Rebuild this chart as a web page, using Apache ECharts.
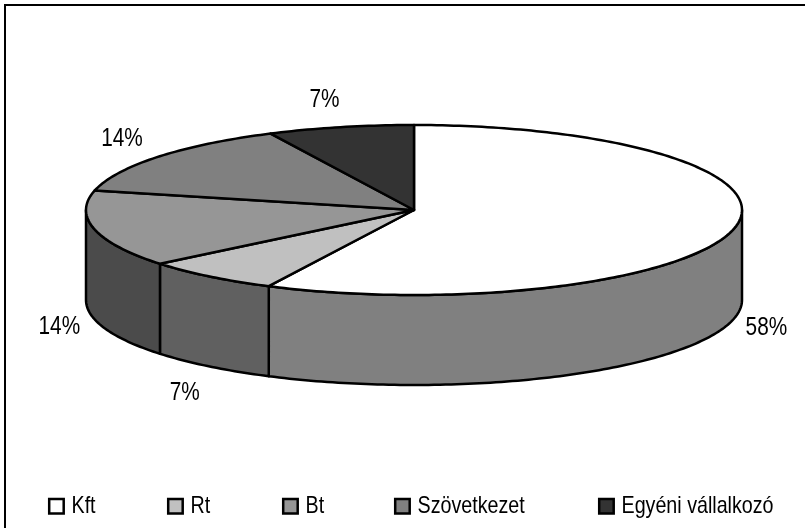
<!DOCTYPE html>
<html><head><meta charset="utf-8">
<style>html,body{margin:0;padding:0;background:#fff}#c{width:805px;height:528px}</style>
<script src="https://cdn.jsdelivr.net/npm/echarts@6/dist/echarts.min.js"></script>
</head><body><div id="c"></div>
<script>
const categories = ['Kft', 'Rt', 'Bt', 'Szövetkezet', 'Egyéni vállalkozó'];
const shares = [57.3, 6.8, 14.6, 14.1, 7.2];
const shareLabels = ['58%', '7%', '14%', '14%', '7%'];
const topColors = ['#ffffff', '#c0c0c0', '#969696', '#808080', '#333333'];
const sideColors = ['#808080', '#606060', '#4b4b4b', '#404040', '#1a1a1a'];
const labelOffsets = [[33, 9], [-25, 26], [-35, 8], [-36, -18], [-16, -27]];
const legendX = [48, 167, 282, 394, 598];

const CX = 414, CY = 210, RX = 328, RY = 85, DEPTH = 90;
const FONT = '"Liberation Sans",Arial,sans-serif';
const total = shares.reduce((a, b) => a + b, 0);
const rad = f => f * 2 * Math.PI;
const pt = (f, dy) => [CX + RX * Math.sin(rad(f)), CY - RY * Math.cos(rad(f)) + (dy || 0)];
const arc = (f0, f1, dy) => {
  const n = Math.max(2, Math.ceil((f1 - f0) * 360)), out = [];
  for (let i = 0; i <= n; i++) out.push(pt(f0 + (f1 - f0) * i / n, dy));
  return out;
};
const starts = shares.map((_, i) => shares.slice(0, i).reduce((a, b) => a + b, 0) / total);

const renderSlice = idx => () => {
  const f0 = starts[idx], f1 = f0 + shares[idx] / total, mid = (f0 + f1) / 2;
  const children = [];
  const line = { stroke: '#000', lineWidth: 2.5, lineJoin: 'round' };
  const a = Math.max(f0, 0.25), b = Math.min(f1, 0.75);
  if (b > a) {
    const wall = arc(a, b, 0).concat(arc(a, b, DEPTH).reverse());
    children.push({ type: 'polygon', shape: { points: wall }, style: { fill: sideColors[idx], ...line } });
  }
  const top = [[CX, CY]].concat(arc(f0, f1, 0));
  children.push({ type: 'polygon', shape: { points: top }, style: { fill: topColors[idx], ...line } });
  const anchor = pt(mid, mid > 0.25 && mid < 0.75 ? DEPTH : 0);
  children.push({ type: 'text',
    x: anchor[0] + labelOffsets[idx][0], y: anchor[1] + labelOffsets[idx][1], scaleX: 0.8,
    style: { x: 0, y: 0, text: shareLabels[idx], fill: '#000', font: '26px ' + FONT, align: 'center', verticalAlign: 'middle' },
    z2: 10 });
  return { type: 'group', children };
};

const chart = echarts.init(document.getElementById('c'), null, { renderer: 'canvas' });
const legendItems = categories.flatMap((name, i) => [
  { type: 'rect', shape: { x: legendX[i] + 1.2, y: 499, width: 14.5, height: 14.5 },
    style: { fill: topColors[i], stroke: '#000', lineWidth: 2.5 } },
  { type: 'text', x: legendX[i] + 23.5, y: 506, scaleX: 0.82,
    style: { x: 0, y: 0, text: name, fill: '#000', font: '24px ' + FONT, align: 'left', verticalAlign: 'middle' } }
]);
chart.setOption({
  animation: false,
  backgroundColor: '#fff',
  graphic: [{ type: 'rect', shape: { x: 5, y: 5, width: 830, height: 540 }, style: { fill: 'none', stroke: '#000', lineWidth: 2 }, silent: true }]
    .concat(legendItems.map(e => ({ ...e, silent: true }))),
  series: categories.map((name, i) => ({
    type: 'custom', name, coordinateSystem: 'none', data: [shares[i]],
    renderItem: renderSlice(i), silent: true
  }))
});
</script></body></html>
